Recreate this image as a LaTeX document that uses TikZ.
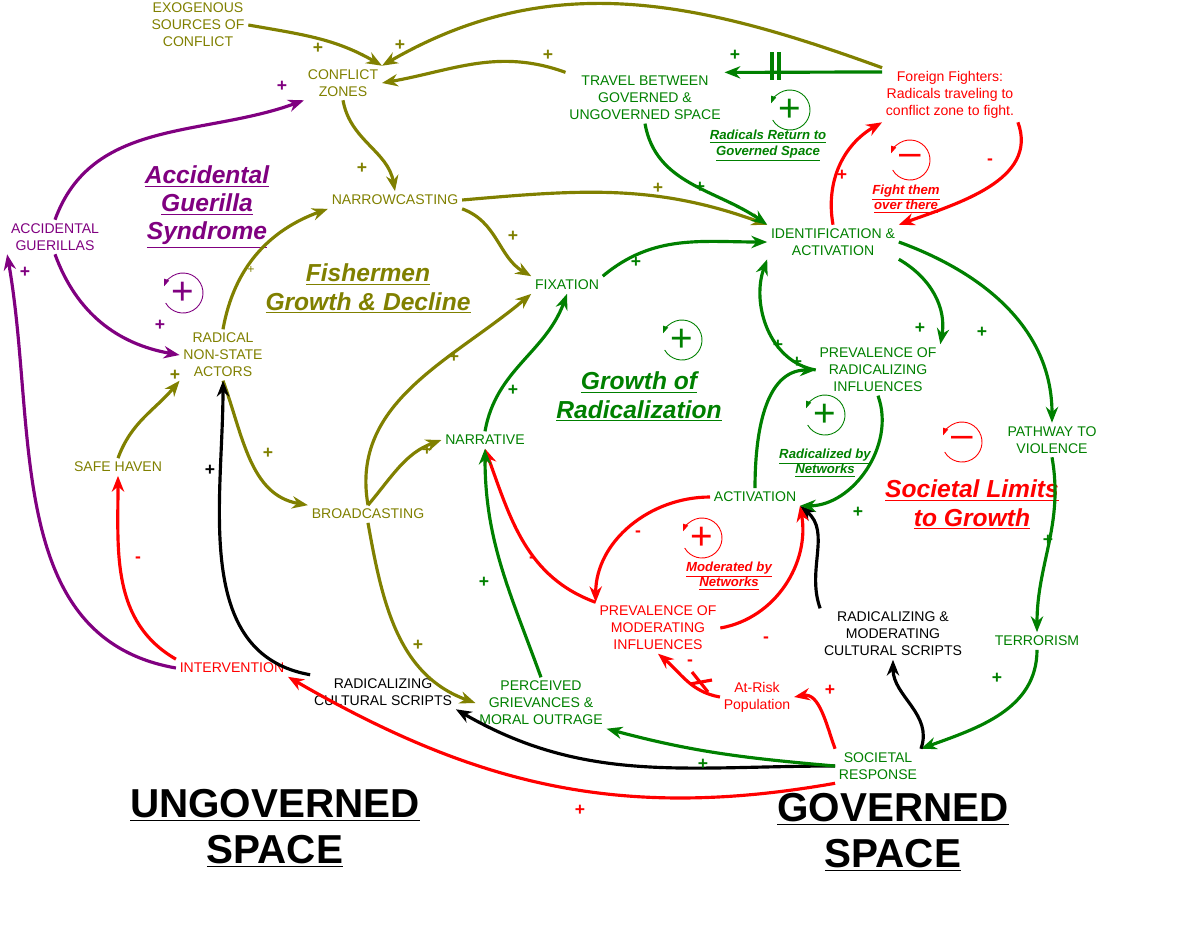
\documentclass[tikz,border=0pt]{standalone}
\usepackage{fontspec}
\setmainfont{Liberation Sans}
\usetikzlibrary{arrows.meta}
\definecolor{ol}{RGB}{128,128,0}
\definecolor{gr}{RGB}{0,128,0}
\definecolor{rd}{RGB}{255,0,0}
\definecolor{pu}{RGB}{128,0,128}
\newcommand\loopsym[4]{%
 \draw[#3,line width=0.5pt,-{Triangle[length=4pt,width=3pt]}] (#1,#2)+(-150:20) arc[start angle=-150,end angle=160,radius=20];
 \node[#3,font=\fontsize{22}{22}\selectfont] at (#1,#2) {#4};}
\begin{document}
\begin{tikzpicture}[x=0.02cm,y=0.02cm,
 every node/.style={font=\fontsize{8}{9.6}\selectfont,align=center,inner sep=2pt},
 e/.style={line width=1.8pt,-{Stealth[length=9pt,width=7pt]}},
 sg/.style={font=\fontsize{10}{10}\selectfont\bfseries},
 lt/.style={font=\fontsize{14}{16}\selectfont\bfseries\itshape},
 st/.style={font=\fontsize{7.5}{9}\selectfont\bfseries\itshape},
 bg/.style={font=\fontsize{23}{26}\selectfont\bfseries}]
\useasboundingbox (0,0) rectangle (1200,-941);
% nodes
\node[ol] (exo) at (198,-25) {EXOGENOUS\\SOURCES OF\\CONFLICT};
\node[ol] (cz) at (343,-83) {CONFLICT\\ZONES};
\node[gr] (travel) at (645,-98) {TRAVEL BETWEEN\\GOVERNED \&\\UNGOVERNED SPACE};
\node[rd] (ff) at (950,-95) {Foreign Fighters:\\Radicals traveling to\\conflict zone to fight.};
\node[ol] (narrow) at (395,-200) {NARROWCASTING};
\node[gr] (idact) at (833,-242) {IDENTIFICATION \&\\ACTIVATION};
\node[pu] (accg) at (55,-237) {ACCIDENTAL\\GUERILLAS};
\node[gr] (fix) at (567,-285) {FIXATION};
\node[ol] (rnsa) at (223,-355) {RADICAL\\NON-STATE\\ACTORS};
\node[gr] (prev) at (878,-370) {PREVALENCE OF\\RADICALIZING\\INFLUENCES};
\node[gr] (pathway) at (1052,-440) {PATHWAY TO\\VIOLENCE};
\node[gr] (narrative) at (485,-440) {NARRATIVE};
\node[ol] (safe) at (118,-467) {SAFE HAVEN};
\node[gr] (activation) at (755,-497) {ACTIVATION};
\node[ol] (broad) at (368,-514) {BROADCASTING};
\node[rd] (pmi) at (658,-628) {PREVALENCE OF\\MODERATING\\INFLUENCES};
\node (rmcs) at (893,-634) {RADICALIZING \&\\MODERATING\\CULTURAL SCRIPTS};
\node[gr] (terror) at (1037,-641) {TERRORISM};
\node[rd] (interv) at (232,-668) {INTERVENTION};
\node (rcs) at (383,-692) {RADICALIZING\\CULTURAL SCRIPTS};
\node[gr] (pg) at (541,-703) {PERCEIVED\\GRIEVANCES \&\\MORAL OUTRAGE};
\node[rd] (atrisk) at (757,-697) {At-Risk\\Population};
\node[gr] (sr) at (878,-766) {SOCIETAL\\RESPONSE};
% loop titles
\node[pu,lt] (t1) at (207,-207) {\underline{Accidental}\\\underline{Guerilla}\\\underline{Syndrome}};
\node[ol,lt] (t2) at (368,-289) {\underline{Fishermen}\\\underline{Growth \& Decline}};
\node[gr,lt] (t3) at (639,-397) {\underline{Growth of}\\\underline{Radicalization}};
\node[rd,lt] (t4) at (972,-505) {\underline{Societal Limits}\\\underline{to Growth}};
\node[gr,st] (t5) at (768,-146) {\underline{Radicals Return to}\\\underline{Governed Space}};
\node[rd,st] (t6) at (906,-199) {\underline{Fight them}\\\underline{over there}};
\node[gr,st] (t7) at (825,-463) {\underline{Radicalized by}\\\underline{Networks}};
\node[rd,st] (t8) at (729,-576) {\underline{Moderated by}\\\underline{Networks}};
\node[bg] (ug) at (275,-828) {\underline{UNGOVERNED}\\\underline{SPACE}};
\node[bg] (gv) at (893,-832) {\underline{GOVERNED}\\\underline{SPACE}};
% loop symbols
\loopsym{183}{-293}{pu}{+}
\loopsym{682}{-340}{gr}{+}
\loopsym{790}{-110}{gr}{+}
\loopsym{910}{-160}{rd}{--}
\loopsym{825}{-415}{gr}{+}
\loopsym{962}{-442}{rd}{--}
\loopsym{702}{-538}{rd}{+}
% edges
\draw[e,ol] (exo.east) to[out=-10,in=150] (cz.north east);
\draw[e,ol] (travel.north west) to[out=160,in=10] (cz.east);
\draw[e,ol] (ff.north west) to[out=160,in=30] (cz.north east);
\draw[e,gr] (ff.west|-0,-72) to[out=180,in=0] (travel.north east);
\draw[gr,line width=1.8pt] (772,-52) -- (772,-80) (779,-52) -- (779,-80);
\draw[e,ol] (cz.south) to[out=-80,in=100] (narrow.north);
\draw[e,ol] (narrow.east) to[out=5,in=160] (idact.north west);
\draw[e,ol] (narrow.south east) to[out=-20,in=150] (fix.north west);
\draw[e,gr] (travel.south) to[out=-80,in=145] (idact.north west);
\draw[e,rd] (idact.north) to[out=100,in=-150] (ff.south west);
\draw[e,rd] (ff.south east) to[out=-70,in=20] (idact.north east);
\draw[e,gr] (fix.north east) to[out=40,in=180] (idact.west);
\draw[e,gr] (idact.south east) to[out=-30,in=80] (prev.north east);
\draw[e,gr] (prev.west) to[out=170,in=-110] (idact.south west);
\draw[e,gr] (idact.east) to[out=-20,in=90] (pathway.north);
\draw[e,gr] (pathway.south) to[out=-80,in=90] (terror.north);
\draw[e,gr] (terror.south) to[out=-90,in=20] (sr.north east);
\draw[e] (sr.north east) to[out=70,in=-90] (rmcs.south);
\draw[e] (rmcs.north west) to[out=110,in=-40] (activation.south east);
\draw[e,rd] (sr.north west) to[out=110,in=10] (atrisk.east);
\draw[e,rd] (atrisk.west) to[out=170,in=-40] (pmi.south);
\draw[rd,line width=1.8pt] (692,-672) -- (708,-692) (690,-684) -- (712,-680);
\draw[e,rd] (pmi.east) to[out=10,in=-80] (activation.south east);
\draw[e,rd] (activation.west) to[out=180,in=90] (pmi.north west);
\draw[e,gr] (activation.north) to[out=90,in=180] (prev.west);
\draw[e,gr] (prev.south) to[out=-70,in=0] (activation.south east);
\draw[e,rd] (pmi.north west) to[out=160,in=-70] (narrative.south);
\draw[e,gr] (pg.north) to[out=110,in=-90] (narrative.south);
\draw[e,gr] (narrative.north) to[out=80,in=-110] (fix.south);
\draw[e,ol] (broad.north) to[out=50,in=200] (narrative.west);
\draw[e,ol] (broad.north) to[out=100,in=220] (fix.south west);
\draw[e,ol] (broad.south) to[out=-80,in=160] (pg.west);
\draw[e,ol] (rnsa.south) to[out=-70,in=170] (broad.north west);
\draw[e,ol] (rnsa.north) to[out=80,in=200] (narrow.south west);
\draw[e,pu] (accg.south) to[out=-70,in=170] (rnsa.west);
\draw[e,pu] (accg.north) to[out=70,in=200] (cz.south west);
\draw[e,pu] (interv.west) to[out=170,in=-80] (accg.south west);
\draw[e,rd] (interv.north west) to[out=150,in=-90] (safe.south);
\draw[e,ol] (safe.north) to[out=70,in=-130] (rnsa.south west);
\draw[e] (rcs.north west) to[out=170,in=-90] (rnsa.south);
\draw[e] (sr.west) to[out=180,in=-30] (rcs.south east);
\draw[e,gr] (sr.west) to[out=175,in=-15] (pg.south east);
\draw[e,rd] (sr.south west) to[out=190,in=-30] (interv.south east);
% signs
\foreach \x/\y/\c/\s in {318/48/ol/+,400/45/ol/+,548/55/ol/+,735/55/gr/+,362/168/ol/+,658/188/ol/+,700/187/gr/+,513/236/ol/+,636/262/gr/+,842/175/rd/+,990/162/rd/-,920/328/gr/+,778/345/gr/+,797/362/gr/+,982/332/gr/+,1048/540/gr/+,997/678/gr/+,282/86/pu/+,25/272/pu/+,160/325/pu/+,175/375/ol/+,454/357/ol/+,513/390/gr/+,427/450/ol/+,210/470/black/+,268/453/ol/+,138/560/rd/-,418/645/ol/+,484/582/gr/+,532/560/rd/-,638/534/rd/-,766/640/rd/-,690/663/rd/-,830/690/rd/+,858/512/gr/+,703/764/gr/+,580/810/rd/+}
 \node[sg,text=\c] at (\x,-\y) {\s};
\node[ol,font=\fontsize{7}{7}\selectfont] at (251,-270) {+};
\end{tikzpicture}
\end{document}
